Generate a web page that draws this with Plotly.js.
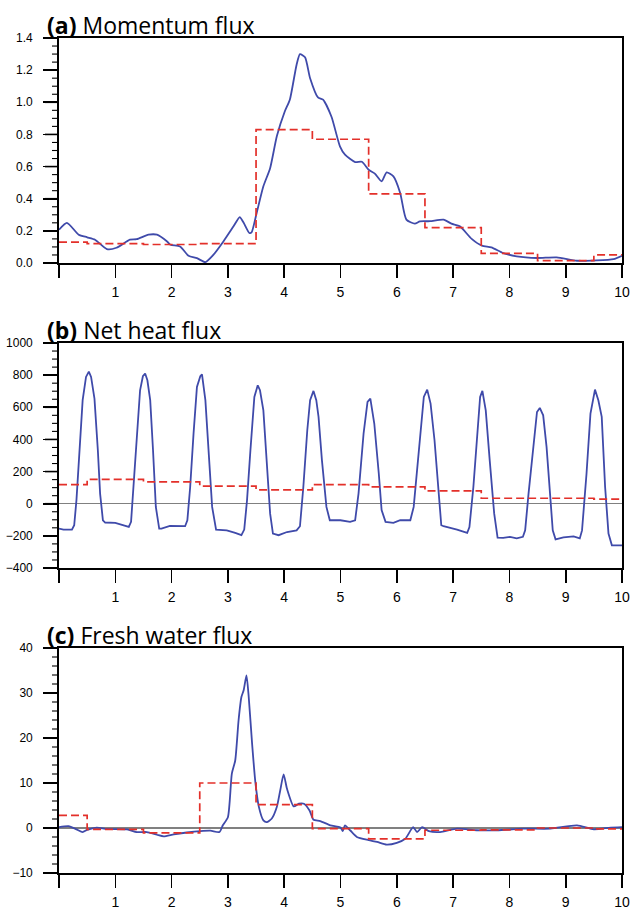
<!DOCTYPE html>
<html>
<head>
<meta charset="utf-8">
<script src="https://cdn.plot.ly/plotly-3.0.1.min.js"></script>
<style>html,body{margin:0;padding:0;background:#fff;}#chart{width:630px;height:911px;}</style>
</head>
<body>
<div id="chart"></div>
<script>
// ---- data ----
var xTickVals = [0,1,2,3,4,5,6,7,8,9,10];
var xTickText = ['','1','2','3','4','5','6','7','8','9','10'];
var dayCenters = [0,1,2,3,4,5,6,7,8,9,10];

// (a) Momentum flux
var momX = [0,0.14,0.35,0.5,0.64,0.85,1.02,1.26,1.38,1.59,1.74,1.92,1.98,2.15,2.3,2.45,2.6,2.74,2.92,3.1,3.21,3.28,3.38,3.42,3.51,3.63,3.75,3.87,4.01,4.1,4.22,4.28,4.37,4.46,4.6,4.69,4.84,4.99,5.08,5.26,5.38,5.5,5.61,5.73,5.82,5.94,6.06,6.17,6.32,6.41,6.59,6.83,6.97,7.12,7.33,7.51,7.68,7.89,8.13,8.49,8.84,9.2,9.55,9.85,10];
var momBlue = [0.207,0.25,0.176,0.16,0.145,0.087,0.095,0.145,0.148,0.176,0.176,0.134,0.114,0.103,0.045,0.03,0.006,0.05,0.134,0.228,0.286,0.25,0.187,0.19,0.31,0.477,0.59,0.79,0.943,1.016,1.234,1.30,1.28,1.15,1.03,1.016,0.91,0.726,0.674,0.628,0.63,0.58,0.556,0.508,0.564,0.539,0.436,0.27,0.245,0.259,0.26,0.27,0.245,0.228,0.15,0.108,0.097,0.062,0.041,0.031,0.035,0.014,0.016,0.024,0.045];
var momRed = [0.13,0.12,0.115,0.12,0.83,0.77,0.43,0.22,0.06,0.015,0.05];

// (b) Net heat flux
var heatX = [0,0.08,0.23,0.27,0.31,0.35,0.42,0.48,0.53,0.57,0.63,0.69,0.73,0.78,0.82,1.0,1.24,1.28,1.32,1.37,1.44,1.49,1.53,1.57,1.62,1.67,1.72,1.78,1.82,1.97,2.24,2.28,2.33,2.39,2.45,2.51,2.54,2.6,2.66,2.72,2.79,2.98,3.13,3.24,3.29,3.34,3.4,3.47,3.53,3.57,3.63,3.69,3.75,3.8,3.9,4.05,4.22,4.28,4.34,4.41,4.46,4.52,4.57,4.61,4.67,4.75,4.81,5.0,5.17,5.26,5.32,5.41,5.48,5.53,5.6,5.68,5.73,5.8,5.94,6.06,6.24,6.3,6.39,6.48,6.54,6.6,6.67,6.73,6.79,6.83,7.07,7.25,7.29,7.36,7.42,7.48,7.52,7.58,7.65,7.73,7.79,7.89,8.01,8.13,8.24,8.28,8.34,8.42,8.49,8.54,8.6,8.66,8.72,8.77,8.82,8.96,9.14,9.25,9.29,9.37,9.44,9.52,9.58,9.64,9.7,9.76,9.82,10];
var heatBlue = [-155,-161,-161,-134,22,271,644,789,822,789,654,333,63,-103,-117,-119,-144,-113,104,395,706,793,810,768,644,333,-20,-155,-155,-138,-140,-103,104,438,727,793,805,644,333,-20,-161,-166,-182,-196,-161,22,333,664,737,706,581,271,-62,-186,-196,-176,-166,-140,104,457,644,702,644,540,271,-20,-103,-103,-113,-103,63,437,634,654,499,188,-40,-113,-119,-103,-103,-20,333,664,710,623,395,104,-134,-140,-161,-182,-145,104,395,664,702,581,271,-62,-211,-213,-206,-216,-206,-166,63,354,571,596,550,354,63,-166,-222,-210,-203,-216,-166,188,561,710,644,540,104,-186,-259,-259];
var heatRed = [119,152,136,109,86,119,105,80,34,34,28];

// (c) Fresh water flux
var waterX = [0,0.17,0.31,0.42,0.5,0.67,0.85,1.21,1.38,1.56,1.74,1.86,2.04,2.27,2.51,2.69,2.85,2.91,3.0,3.07,3.13,3.19,3.24,3.28,3.33,3.37,3.43,3.49,3.55,3.63,3.69,3.78,3.87,3.93,3.99,4.05,4.17,4.26,4.35,4.45,4.52,4.64,4.82,5.0,5.04,5.08,5.17,5.29,5.5,5.65,5.82,6.0,6.15,6.29,6.36,6.45,6.57,6.77,7.07,7.42,7.78,8.25,8.73,9.2,9.5,9.8,10];
var waterBlue = [0.2,0.4,-0.3,-0.9,-0.4,0.1,-0.2,-0.3,-0.9,-0.9,-1.5,-1.85,-1.4,-1.0,-0.7,-0.6,-0.9,0.6,2.4,12.1,15,24,29.1,30.6,33.9,29.1,18.7,9.9,4.7,1.7,1.3,2.1,4.7,8.4,11.9,8.7,4.8,5.4,5.4,3.9,1.85,1.55,0.6,0.1,-0.7,0.6,-0.5,-2.0,-2.7,-3.1,-3.7,-3.3,-2.4,0.2,-0.9,0.2,-0.7,-0.9,-0.15,-0.5,-0.5,-0.15,-0.15,0.6,-0.3,0.1,0.2];
var waterRed = [2.8,-0.3,-1.1,10.0,5.2,-0.15,-2.4,-0.5,-0.4,0,-0.2];

// ---- styling ----
var BLUE = '#3f4aaa';
var RED = '#e3302a';
function blueTrace(x, y, xa, ya, shape) {
  return {x: x, y: y, xaxis: xa, yaxis: ya, type: 'scatter', mode: 'lines',
    line: {color: BLUE, width: 1.8, shape: shape || 'linear', smoothing: 0.6}};
}
function redTrace(y, xa, ya) {
  return {x: dayCenters, y: y, xaxis: xa, yaxis: ya, type: 'scatter', mode: 'lines',
    line: {color: RED, width: 1.7, shape: 'hvh', dash: '8px,4px'}};
}
var data = [
  blueTrace(momX, momBlue, 'x', 'y', 'spline'), redTrace(momRed, 'x', 'y'),
  blueTrace(heatX, heatBlue, 'x2', 'y2'), redTrace(heatRed, 'x2', 'y2'),
  blueTrace(waterX, waterBlue, 'x3', 'y3', 'spline'), redTrace(waterRed, 'x3', 'y3')
];

function xAxis(anchor) {
  return {anchor: anchor, range: [0, 10], tickmode: 'array', tickvals: xTickVals, ticktext: xTickText,
    ticks: 'outside', ticklen: 13, tickwidth: 1.6, tickcolor: '#000', showgrid: false, zeroline: false,
    showline: true, linecolor: '#000', linewidth: 1.8, mirror: true, ticklabelstandoff: 2,
    tickfont: {family: 'Liberation Sans, Arial, sans-serif', size: 14, color: '#000'}};
}
function yAxis(anchor, domain, range, dtick, fmt, zl) {
  return {anchor: anchor, domain: domain, range: range, tickmode: 'linear', tick0: range[0], dtick: dtick,
    ticks: 'outside', ticklen: 14, tickwidth: 1.6, tickcolor: '#000', showgrid: false,
    zeroline: zl, zerolinecolor: '#808080', zerolinewidth: 1.5, tickformat: fmt,
    showline: true, linecolor: '#000', linewidth: 1.8, mirror: true, ticklabelstandoff: 8,
    tickfont: {family: 'Liberation Sans, Arial, sans-serif', size: 12, color: '#000'}};
}

// left-axis tick marks (major and minor) laid on each y axis's own scale
var PLOT_W = 563;
function tickShapes(yref, range, dtick, minor) {
  var out = [];
  var nMinor = Math.round((range[1] - range[0]) / minor);
  var per = Math.round(dtick / minor);
  for (var i = 0; i <= nMinor; i++) {
    var v = range[0] + i * minor;
    var isMajor = (i % per === 0);
    out.push({type: 'line', layer: 'above', xref: 'paper', yref: yref,
      x0: -(isMajor ? 14 : 7) / PLOT_W, x1: 0, y0: v, y1: v,
      line: {color: '#000', width: isMajor ? 1.6 : 1.1}});
  }
  return out;
}
var shapes = [].concat(
  tickShapes('y', [0, 1.4], 0.2, 0.05),
  tickShapes('y2', [-400, 1000], 200, 50),
  tickShapes('y3', [-10, 40], 10, 2)
);

var H = 835;
var layout = {
  width: 630, height: 911, showlegend: false,
  margin: {l: 59, r: 8, t: 38, b: 38},
  plot_bgcolor: '#fff',
  xaxis: xAxis('y'), xaxis2: xAxis('y2'), xaxis3: xAxis('y3'),
  yaxis: yAxis('x', [1 - 225 / H, 1], [0, 1.4], 0.2, '.1f', false),
  yaxis2: yAxis('x2', [1 - 530 / H, 1 - 305 / H], [-400, 1000], 200, 'd', true),
  yaxis3: yAxis('x3', [0, 225 / H], [-10, 40], 10, 'd', true),
  shapes: shapes,
  annotations: [
    ['<b>(a)</b> Momentum flux', 1],
    ['<b>(b)</b> Net heat flux', 1 - 305 / H],
    ['<b>(c)</b> Fresh water flux', 225 / H]
  ].map(function (t) {
    return {text: t[0], xref: 'paper', yref: 'paper', x: -14 / 563, y: t[1], xanchor: 'left', yanchor: 'bottom',
      showarrow: false, yshift: -5, font: {family: 'Open Sans, Noto Sans, sans-serif', size: 23, color: '#000'}};
  })
};
Plotly.newPlot('chart', data, layout, {staticPlot: true});
</script>
</body>
</html>
